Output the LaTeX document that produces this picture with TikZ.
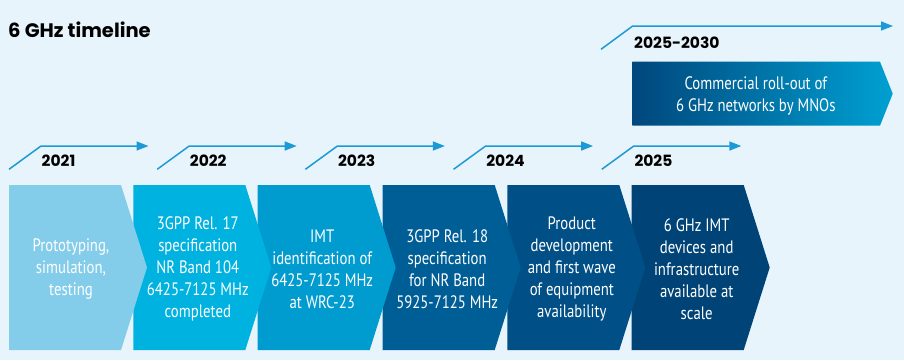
\documentclass[tikz,border=0pt]{standalone}
\usepackage{fontspec}
\setmainfont{PT Sans}[FakeStretch=0.82]
\newfontfamily\yearfont{Poppins}
\usetikzlibrary{arrows.meta}
\definecolor{bgc}{HTML}{E8F4FB}
\definecolor{arrc}{HTML}{1B9AD6}
\definecolor{cA}{HTML}{84CDEA}
\definecolor{cB}{HTML}{00B2E0}
\definecolor{cC}{HTML}{009CCF}
\definecolor{cD}{HTML}{005E97}
\definecolor{cE}{HTML}{004F86}
\definecolor{cF}{HTML}{004477}
\definecolor{gL}{HTML}{00477C}
\definecolor{gR}{HTML}{00A0D2}
\tikzset{
  chevtext/.style={text=white, align=center, inner sep=0pt, font=\fontsize{18}{22}\selectfont},
  yeartext/.style={anchor=west, inner sep=0pt, font=\yearfont\bfseries\fontsize{15.5}{18}\selectfont},
  yeararrow/.style={draw=arrc, line width=1.5pt, -{Triangle[length=12pt,width=9pt]}},
}
\begin{document}
\begin{tikzpicture}[x=1pt,y=-1pt]
\useasboundingbox (0,0) rectangle (904,360);
\fill[bgc] (0,0) rectangle (904,360);
% title
\node[anchor=west, inner sep=0pt, font=\yearfont\bfseries\fontsize{19.5}{22}\selectfont] (title) at (8,30) {6 GHz timeline};
% chevrons (drawn right to left so each tip overlaps the next)
\foreach \l/\c in {631.7/cF, 507.3/cE, 382.7/cD, 257.7/cC, 133.3/cB, 9/cA}{
  \fill[\c] (\l,185) -- (\l+112,185) -- (\l+138,267.5) -- (\l+112,350) -- (\l,350) -- cycle;
}
\node[chevtext] (t1) at (9+62,269) {Prototyping,\\simulation,\\testing};
\node[chevtext] (t2) at (133.3+64.5,269) {3GPP Rel. 17\\specification\\NR Band 104\\6425-7125 MHz\\completed};
\node[chevtext] (t3) at (257.7+64.5,269) {IMT\\identification of\\6425-7125 MHz\\at WRC-23};
\node[chevtext] (t4) at (382.7+64.5,269) {3GPP Rel. 18\\specification\\for NR Band\\5925-7125 MHz};
\node[chevtext] (t5) at (507.3+64.5,269) {Product\\development\\and first wave\\of equipment\\availability};
\node[chevtext] (t6) at (631.7+65,269) {6 GHz IMT\\devices and\\infrastructure\\available at\\scale};
% top gradient chevron
\shade[left color=gL, right color=gR] (632.3,61.7) -- (880,61.7) -- (892.7,93.7) -- (880,125.7) -- (632.3,125.7) -- cycle;
\node[chevtext] (t7) at (755.8,96) {Commercial roll-out of\\6 GHz networks by MNOs};
% year arrows
\foreach \s/\y [count=\i] in {9/2021, 157.2/2022, 305.4/2023, 453.6/2024, 601.8/2025}{
  \coordinate (s\i) at (\s,169.3);
  \coordinate (k\i) at (\s+32,146);
  \coordinate (e\i) at (\s+139.5,146);
  \draw[yeararrow] (s\i) -- (k\i) -- (e\i);
  \node[yeartext] (y\i) at (\s+32.5,161) {\y};
}
\coordinate (s6) at (601,49.3);
\coordinate (k6) at (632.7,26);
\coordinate (e6) at (893,26);
\draw[yeararrow] (s6) -- (k6) -- (e6);
\node[yeartext] (y6) at (634,42.3) {2025-2030};
\end{tikzpicture}
\end{document}
